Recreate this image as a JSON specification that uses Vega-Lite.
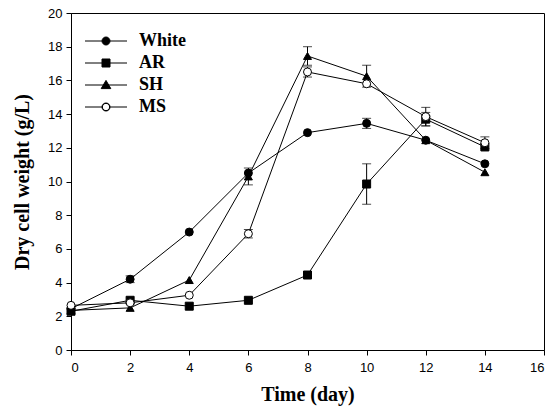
{
  "$schema": "https://vega.github.io/schema/vega-lite/v6.json",
  "width": 473,
  "height": 337,
  "autosize": "none",
  "padding": {"left": 71, "top": 13, "right": 9, "bottom": 64},
  "background": "white",
  "config": {
    "view": {"stroke": "black", "strokeWidth": 1},
    "axis": {
      "grid": false,
      "domainColor": "black",
      "tickColor": "black",
      "tickSize": 5,
      "labelFont": "Liberation Sans",
      "labelFontSize": 13,
      "labelColor": "black",
      "titleFont": "Liberation Serif",
      "titleFontSize": 20,
      "titleFontWeight": "bold",
      "titleColor": "black"
    }
  },
  "resolve": {"scale": {"shape": "independent"}},
  "data": {
    "values": [
      {"series": "White", "day": 0, "dcw": 2.45, "lo": null, "hi": null},
      {"series": "White", "day": 2, "dcw": 4.2, "lo": 4.0, "hi": 4.4},
      {"series": "White", "day": 4, "dcw": 7.0, "lo": null, "hi": null},
      {"series": "White", "day": 6, "dcw": 10.5, "lo": null, "hi": null},
      {"series": "White", "day": 8, "dcw": 12.9, "lo": null, "hi": null},
      {"series": "White", "day": 10, "dcw": 13.45, "lo": 13.15, "hi": 13.75},
      {"series": "White", "day": 12, "dcw": 12.45, "lo": null, "hi": null},
      {"series": "White", "day": 14, "dcw": 11.05, "lo": null, "hi": null},
      {"series": "AR", "day": 0, "dcw": 2.3, "lo": null, "hi": null},
      {"series": "AR", "day": 2, "dcw": 2.95, "lo": null, "hi": null},
      {"series": "AR", "day": 4, "dcw": 2.6, "lo": null, "hi": null},
      {"series": "AR", "day": 6, "dcw": 2.95, "lo": null, "hi": null},
      {"series": "AR", "day": 8, "dcw": 4.45, "lo": null, "hi": null},
      {"series": "AR", "day": 10, "dcw": 9.85, "lo": 8.65, "hi": 11.05},
      {"series": "AR", "day": 12, "dcw": 13.7, "lo": 13.3, "hi": 14.1},
      {"series": "AR", "day": 14, "dcw": 12.05, "lo": null, "hi": null},
      {"series": "SH", "day": 0, "dcw": 2.35, "lo": null, "hi": null},
      {"series": "SH", "day": 2, "dcw": 2.5, "lo": null, "hi": null},
      {"series": "SH", "day": 4, "dcw": 4.15, "lo": null, "hi": null},
      {"series": "SH", "day": 6, "dcw": 10.3, "lo": 9.8, "hi": 10.8},
      {"series": "SH", "day": 8, "dcw": 17.45, "lo": 16.9, "hi": 18.0},
      {"series": "SH", "day": 10, "dcw": 16.25, "lo": 15.6, "hi": 16.9},
      {"series": "SH", "day": 12, "dcw": 12.45, "lo": null, "hi": null},
      {"series": "SH", "day": 14, "dcw": 10.55, "lo": null, "hi": null},
      {"series": "MS", "day": 0, "dcw": 2.65, "lo": null, "hi": null},
      {"series": "MS", "day": 2, "dcw": 2.8, "lo": null, "hi": null},
      {"series": "MS", "day": 4, "dcw": 3.25, "lo": null, "hi": null},
      {"series": "MS", "day": 6, "dcw": 6.9, "lo": 6.65, "hi": 7.15},
      {"series": "MS", "day": 8, "dcw": 16.5, "lo": 16.2, "hi": 16.8},
      {"series": "MS", "day": 10, "dcw": 15.8, "lo": null, "hi": null},
      {"series": "MS", "day": 12, "dcw": 13.85, "lo": 13.3, "hi": 14.4},
      {"series": "MS", "day": 14, "dcw": 12.3, "lo": 11.95, "hi": 12.65}
    ]
  },
  "encoding": {
    "x": {
      "field": "day", "type": "quantitative",
      "scale": {"domain": [0, 16], "nice": false},
      "axis": {"values": [0, 2, 4, 6, 8, 10, 12, 14, 16], "tickCount": 20, "title": "Time (day)", "titlePadding": 10, "labelPadding": 6}
    }
  },
  "layer": [
    {
      "transform": [{"filter": "isValid(datum.lo)"}],
      "mark": {"type": "errorbar", "color": "black", "ticks": {"size": 9, "color": "black"}, "thickness": 1},
      "encoding": {
        "y": {
          "field": "lo", "type": "quantitative",
          "scale": {"domain": [0, 20], "nice": false},
          "axis": {"values": [0, 2, 4, 6, 8, 10, 12, 14, 16, 18, 20], "tickCount": 20, "title": "Dry cell weight (g/L)", "titlePadding": 15, "labelPadding": 4}
        },
        "y2": {"field": "hi"}
      }
    },
    {
      "mark": {"type": "line", "color": "black", "strokeWidth": 1},
      "encoding": {
        "y": {
          "field": "dcw", "type": "quantitative",
          "scale": {"domain": [0, 20], "nice": false},
          "axis": {"values": [0, 2, 4, 6, 8, 10, 12, 14, 16, 18, 20], "tickCount": 20, "title": "Dry cell weight (g/L)", "titlePadding": 15, "labelPadding": 4}
        },
        "detail": {"field": "series"},
        "order": {"field": "day"}
      }
    },
    {
      "mark": {"type": "point", "filled": true, "stroke": "black", "strokeWidth": 1, "size": 64, "opacity": 1},
      "encoding": {
        "y": {
          "field": "dcw", "type": "quantitative",
          "scale": {"domain": [0, 20], "nice": false},
          "axis": {"values": [0, 2, 4, 6, 8, 10, 12, 14, 16, 18, 20], "tickCount": 20, "title": "Dry cell weight (g/L)", "titlePadding": 15, "labelPadding": 4}
        },
        "shape": {
          "field": "series", "type": "nominal",
          "scale": {"domain": ["White", "AR", "SH", "MS"], "range": ["circle", "square", "triangle-up", "circle"]},
          "legend": null
        },
        "fill": {
          "field": "series", "type": "nominal",
          "scale": {"domain": ["White", "AR", "SH", "MS"], "range": ["black", "black", "black", "white"]},
          "legend": null
        }
      }
    },
    {
      "mark": {"type": "point", "filled": true, "color": "black", "stroke": "black", "strokeWidth": 1, "size": 64, "opacity": 0},
      "encoding": {
        "y": {
          "field": "dcw", "type": "quantitative",
          "scale": {"domain": [0, 20], "nice": false},
          "axis": {"values": [0, 2, 4, 6, 8, 10, 12, 14, 16, 18, 20], "tickCount": 20, "title": "Dry cell weight (g/L)", "titlePadding": 15, "labelPadding": 4}
        },
        "shape": {
          "field": "series", "type": "nominal",
          "scale": {
            "domain": ["White", "AR", "SH", "MS"],
            "range": [
              "M-5.25,0L5.25,0M-1,0C-1,-0.55,-0.55,-1,0,-1C0.55,-1,1,-0.55,1,0C1,0.55,0.55,1,0,1C-0.55,1,-1,0.55,-1,0Z",
              "M-5.25,0L5.25,0M-1,-1L1,-1L1,1L-1,1Z",
              "M-5.25,0L5.25,0M0,-1.15L1.2,0.9L-1.2,0.9Z",
              "M-5.25,0L-1,0M1,0L5.25,0M-1,0C-1,-0.55,-0.55,-1,0,-1C0.55,-1,1,-0.55,1,0C1,0.55,0.55,1,0,1C-0.55,1,-1,0.55,-1,0ZM-0.9,0C-0.9,0.5,-0.5,0.9,0,0.9C0.5,0.9,0.9,0.5,0.9,0C0.9,-0.5,0.5,-0.9,0,-0.9C-0.5,-0.9,-0.9,-0.5,-0.9,0Z"
            ]
          },
          "legend": {
            "title": null,
            "orient": "none",
            "legendX": 26,
            "legendY": 19,
            "padding": 0,
            "labelFont": "Liberation Serif",
            "labelFontSize": 18,
            "labelFontWeight": "bold",
            "labelColor": "black",
            "labelOffset": 24,
            "rowPadding": 4,
            "symbolSize": 64,
            "symbolOpacity": 1,
            "symbolStrokeWidth": 1
          }
        }
      }
    }
  ]
}
